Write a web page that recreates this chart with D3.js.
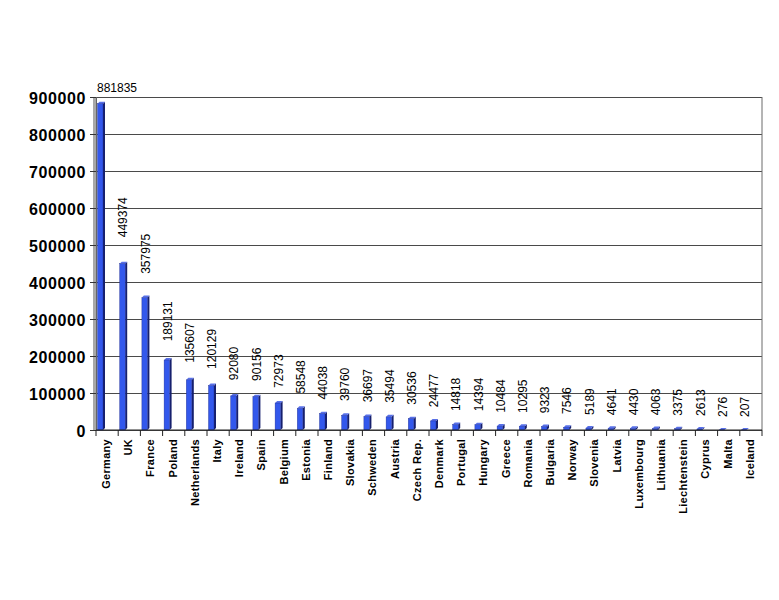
<!DOCTYPE html>
<html>
<head>
<meta charset="utf-8">
<script src="https://cdn.jsdelivr.net/npm/d3@7"></script>
<style>
  body { margin: 0; background: #fff; }
  svg { display: block; font-family: Arial, "Liberation Sans", sans-serif; }
</style>
</head>
<body>
<div id="chart"></div>
<script>
const countries = ["Germany","UK","France","Poland","Netherlands","Italy","Ireland","Spain","Belgium","Estonia",
    "Finland","Slovakia","Schweden","Austria","Czech Rep.","Denmark","Portugal","Hungary","Greece","Romania",
    "Bulgaria","Norway","Slovenia","Latvia","Luxembourg","Lithuania","Liechtenstein","Cyprus","Malta","Iceland"];
const values = [881835,449374,357975,189131,135607,120129,92080,90156,72973,58548,
    44038,39760,36697,35494,30536,24477,14818,14394,10484,10295,
    9323,7546,5189,4641,4430,4063,3375,2613,276,207];
const yTicks = [0,100000,200000,300000,400000,500000,600000,700000,800000,900000];

const canvasWidth = 779;
const canvasHeight = 600;
const plotLeft = 96, plotRight = 762, plotTop = 97, plotBottom = 430;

const svg = d3.select('#chart').append('svg')
    .attr('width', canvasWidth)
    .attr('height', canvasHeight);

svg.append('rect').attr('width', canvasWidth).attr('height', canvasHeight).attr('fill', '#fff');

const x = d3.scaleBand().domain(countries).range([plotLeft, plotRight]);
const y = d3.scaleLinear().domain([0, 900000]).range([plotBottom, plotTop]);

// side wall
svg.append('rect')
    .attr('x', plotLeft - 3).attr('y', plotTop)
    .attr('width', 3).attr('height', plotBottom - plotTop)
    .attr('fill', '#a8a8a8');

// gridlines
svg.append('g')
    .attr('transform', 'translate(' + plotLeft + ',0)')
    .call(d3.axisLeft(y).tickValues(yTicks).tickSize(-(plotRight - plotLeft)).tickFormat(''))
    .call(g => g.select('.domain').remove())
    .selectAll('.tick line')
    .attr('stroke', '#4a4a4a');

// right border
svg.append('line')
    .attr('x1', plotRight).attr('x2', plotRight).attr('y1', plotTop).attr('y2', plotBottom)
    .attr('stroke', '#6a6a6a');

// y axis
const yAxis = svg.append('g')
    .attr('transform', 'translate(' + plotLeft + ',0)')
    .call(d3.axisLeft(y).tickValues(yTicks).tickSize(6).tickPadding(4).tickFormat(d3.format('d')));
yAxis.select('.domain').attr('stroke', '#666');
yAxis.selectAll('.tick line').attr('stroke', '#333');
yAxis.selectAll('text')
    .style('font-size', '16px')
    .style('font-weight', 'bold')
    .style('letter-spacing', '0.6px')
    .style('font-family', 'Arial, "Liberation Sans", sans-serif')
    .attr('fill', '#000')
    .attr('dy', '0.4em');

// bars (3D look)
const bars = svg.append('g').attr('class', 'barras')
    .selectAll('g')
    .data(countries)
    .enter()
    .append('g');

const fx = 1.5, fw = 5.5, depth = 2;

bars.append('polygon')
    .attr('points', (d, i) => {
        const x0 = x(d) + fx + fw, yt = y(values[i]);
        return [[x0, yt], [x0 + depth, yt - depth], [x0 + depth, plotBottom - depth], [x0, plotBottom]].join(' ');
    })
    .attr('fill', '#16206e');

bars.append('polygon')
    .attr('points', (d, i) => {
        const x0 = x(d) + fx, yt = y(values[i]);
        return [[x0, yt], [x0 + depth, yt - depth], [x0 + fw + depth, yt - depth], [x0 + fw, yt]].join(' ');
    })
    .attr('fill', '#5870e8');

bars.append('rect')
    .attr('x', d => x(d) + fx)
    .attr('y', (d, i) => y(values[i]))
    .attr('width', fw)
    .attr('height', (d, i) => plotBottom - y(values[i]))
    .attr('fill', '#3358ec')
    .attr('stroke', '#1c2a90')
    .attr('stroke-width', 0.4);

// x axis line
svg.append('line')
    .attr('x1', plotLeft).attr('x2', plotRight).attr('y1', plotBottom).attr('y2', plotBottom)
    .attr('stroke', '#222');

// x ticks at category boundaries
svg.append('g')
    .selectAll('line')
    .data(countries.concat(['_end']))
    .enter()
    .append('line')
    .attr('x1', d => d === '_end' ? plotRight : x(d))
    .attr('x2', d => d === '_end' ? plotRight : x(d))
    .attr('y1', plotBottom).attr('y2', plotBottom + 6)
    .attr('stroke', '#222');

// x labels
svg.append('g')
    .selectAll('text')
    .data(countries)
    .enter()
    .append('text')
    .attr('transform', d => 'translate(' + (x(d) + x.bandwidth() / 2 - 1) + ',' + (plotBottom + 9) + ') rotate(-90)')
    .attr('text-anchor', 'end')
    .attr('dy', '0.35em')
    .style('font-size', '11px')
    .style('font-weight', 'bold')
    .style('letter-spacing', '0.3px')
    .text(d => d);

// value labels
const labels = svg.append('g');
countries.forEach(function (c, i) {
    const v = values[i];
    const cx = x(c) + 5;
    const yb = y(v) - (13 + 0.00003 * v);
    const txt = String(v);
    const len = txt.length * 6.7;
    if (yb - len < plotTop) {
        labels.append('text')
            .attr('x', x(c) + 1)
            .attr('y', plotTop - 5)
            .style('font-size', '12px')
            .text(txt);
    } else {
        labels.append('text')
            .attr('transform', 'translate(' + cx + ',' + yb + ') rotate(-90)')
            .attr('dy', '0.35em')
            .style('font-size', '12px')
            .text(txt);
    }
});
</script>
</body>
</html>
